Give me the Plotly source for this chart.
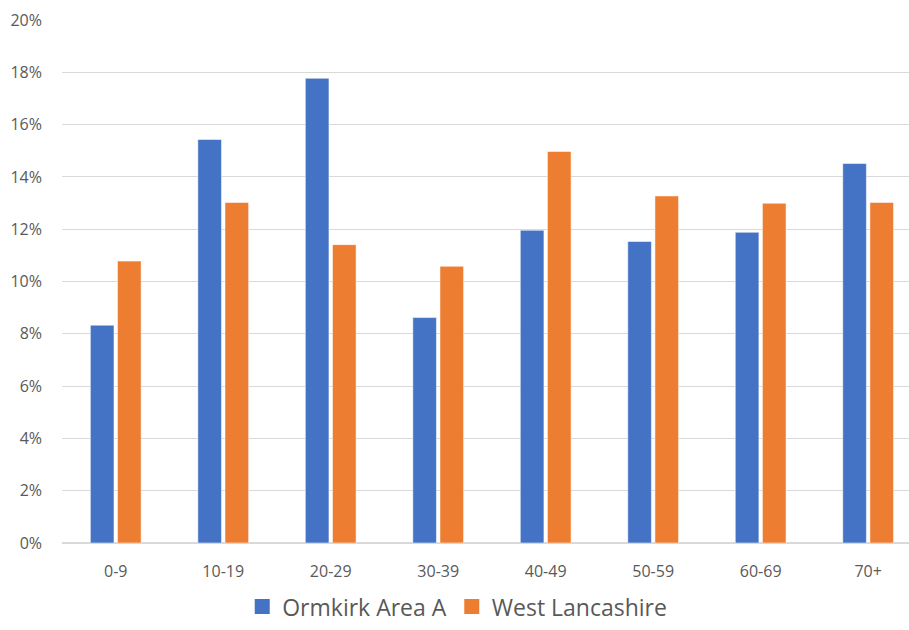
import plotly.graph_objects as go

age_bands = ["0-9", "10-19", "20-29", "30-39", "40-49", "50-59", "60-69", "70+"]
ormkirk_area_a = [8.33, 15.43, 17.77, 8.62, 11.96, 11.53, 11.88, 14.51]
west_lancashire = [10.78, 13.02, 11.41, 10.58, 14.97, 13.27, 12.99, 13.02]
y_ticks = [0, 2, 4, 6, 8, 10, 12, 14, 16, 18, 20]
y_tick_labels = [f"{v}%" for v in y_ticks]

series = [
    ("Ormkirk Area A", ormkirk_area_a, "#4472c4"),
    ("West Lancashire", west_lancashire, "#ed7d31"),
]

TEXT = "#595959"
GRID = "#d9d9d9"
FONT = "Open Sans"

fig = go.Figure()
for name, values, color in series:
    fig.add_trace(go.Bar(
        x=age_bands, y=values, name=name, showlegend=False, legendgroup=name,
        marker=dict(color=color, line=dict(color="rgba(255,255,255,0.5)", width=1)),
    ))
# square legend keys, larger than the default bar swatch
for name, values, color in series:
    fig.add_trace(go.Scatter(
        x=[None], y=[None], mode="markers", name=name, legendgroup=name,
        marker=dict(symbol="square", size=15, color=color),
    ))

fig.update_layout(
    width=909, height=630,
    margin=dict(l=62, r=0, t=19.5, b=87.3),
    paper_bgcolor="white", plot_bgcolor="white",
    barmode="group", bargap=0.495, bargroupgap=0.13,
    font=dict(family=FONT, color=TEXT, size=16),
    showlegend=True,
    legend=dict(
        orientation="h", xref="container", x=0.503, xanchor="center",
        yref="container", y=0.003, yanchor="bottom",
        font=dict(family=FONT, size=23, color=TEXT),
        traceorder="normal", itemclick=False,
    ),
    xaxis=dict(
        range=[-0.5, 7.38], showgrid=False, showline=False, zeroline=False,
        tickfont=dict(family=FONT, size=16, color=TEXT), ticks="",
        ticklabelstandoff=17,
    ),
    yaxis=dict(
        range=[0, 20], tickmode="array", tickvals=y_ticks, ticktext=y_tick_labels,
        showgrid=True, gridcolor=GRID, gridwidth=1.3,
        zeroline=True, zerolinecolor=GRID, zerolinewidth=1.5,
        showline=False, ticks="", tickfont=dict(family=FONT, size=16, color=TEXT),
        ticklabelstandoff=19,
    ),
)

fig.write_html("out.html")
